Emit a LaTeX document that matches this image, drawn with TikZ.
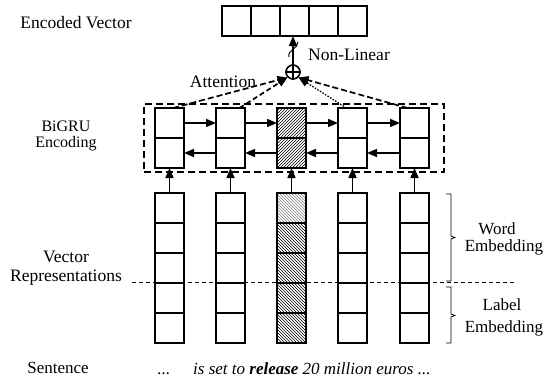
\documentclass[tikz,border=0pt]{standalone}
\usepackage{fontspec}
\setmainfont{Liberation Serif}
\usetikzlibrary{arrows.meta,patterns}
\begin{document}
\begin{tikzpicture}[x=1pt,y=-1pt,
  lbl/.style={inner sep=0pt,anchor=base,font=\fontsize{17.5}{20}\selectfont},
  slbl/.style={inner sep=0pt,anchor=base,font=\fontsize{16}{19}\selectfont},
  cell/.style={draw,line width=2pt,minimum width=29pt,minimum height=30pt,inner sep=0pt,outer sep=0pt,anchor=north west},
  arr/.style={line width=1.6pt,-{Triangle[length=10pt,width=8pt]}},
  att/.style={line width=1.7pt,-{Triangle[length=10pt,width=8pt]}},
  brk/.style={line width=0.8pt},
]
\useasboundingbox (0,0) rectangle (544,388);

% encoded vector
\foreach \i in {1,...,5}{
  \node[cell] (v\i) at ({222+29*(\i-1)},6) {};
}
% BiGRU cells
\foreach \i/\x in {1/155,2/216,3/277,4/338,5/400}{
  \ifnum\i=3
    \node[cell,pattern=north east lines] (g\i t) at (\x,108) {};
    \node[cell,pattern=north east lines] (g\i b) at (\x,138) {};
  \else
    \node[cell] (g\i t) at (\x,108) {};
    \node[cell] (g\i b) at (\x,138) {};
  \fi
}
% embedding columns
\foreach \i/\x in {1/155,2/216,3/277,4/338,5/400}{
  \foreach \j in {1,...,5}{
    \ifnum\i=3
      \ifnum\j=1
        \node[cell,pattern=north west lines,pattern color=gray] (e\i\j) at (\x,{193+30*(\j-1)}) {};
      \else
        \node[cell,pattern=north west lines] (e\i\j) at (\x,{193+30*(\j-1)}) {};
      \fi
    \else
      \node[cell] (e\i\j) at (\x,{193+30*(\j-1)}) {};
    \fi
  }
  \draw[arr] (e\i1.north) -- (g\i b.south);
}
% recurrent arrows
\foreach \a/\b in {1/2,2/3,3/4,4/5}{
  \draw[arr] (g\a t.east) -- (g\b t.west);
  \draw[arr] (g\b b.west) -- (g\a b.east);
}
% dashed BiGRU frame
\node[draw,line width=2pt,dash pattern=on 7pt off 4pt,minimum width=300pt,minimum height=68pt,inner sep=0pt,anchor=north west] (frame) at (143,103) {};

% combination circle
\node[draw,circle,line width=1.6pt,minimum size=14pt,inner sep=0pt] (plus) at (293,72) {};
\draw[line width=1.6pt] (plus.north) -- (plus.south) (plus.west) -- (plus.east);
\draw[arr] (plus.north) -- (plus.north |- v3.south);
\draw[line width=1pt] (289,57) .. controls (287,50) and (298,49) .. (298,42);

% attention connectors
\draw[att,dash pattern=on 6pt off 3pt] ([xshift=3.5pt]g1t.north) -- (plus.south west);
\draw[att,dash pattern=on 5pt off 3pt] ([xshift=9pt]g2t.north) -- (plus.south west);
\draw[att,line width=1.3pt,dash pattern=on 1.5pt off 1.5pt] ([xshift=-6pt]g4t.north) -- (plus.south east);
\draw[att,dash pattern=on 6pt off 3pt] ([xshift=-7pt]g5t.north) -- (plus.south east);

% word / label separator
\coordinate (sepL) at (132,282);
\coordinate (sepR) at (515,282);
\draw[line width=0.8pt,dash pattern=on 4pt off 3pt] (sepL) -- (sepR);

% brackets
\draw[brk] (446,194) -- (451,194) -- (451,236) -- (455,237.5) -- (451,239) -- (451,281) -- (446,281);
\draw[brk] (446,287) -- (451,287) -- (451,314) -- (455,315.5) -- (451,317) -- (451,343) -- (446,343);

% labels
\node[lbl] (lenc) at (76,28) {Encoded Vector};
\node[lbl,anchor=base west] (lnl) at (308,60) {Non-Linear};
\node[lbl] (latt) at (223,87) {Attention};
\node[slbl] (lbi) at (66,131) {BiGRU};
\node[slbl] (lbe) at (66,147) {Encoding};
\node[lbl] (lvec) at (66,262) {Vector};
\node[lbl] (lrep) at (66,281) {Representations};
\node[lbl,font=\fontsize{17}{20}\selectfont] (lw1) at (497,234) {Word};
\node[lbl,font=\fontsize{17}{20}\selectfont] (lw2) at (504,251) {Embedding};
\node[lbl,font=\fontsize{17}{20}\selectfont] (ll1) at (502,310) {Label};
\node[lbl,font=\fontsize{17}{20}\selectfont] (ll2) at (504,332) {Embedding};
\node[lbl,font=\fontsize{17}{20}\selectfont] (lsen) at (58,373) {Sentence};
\node[lbl,font=\fontsize{17}{20}\selectfont\itshape] (ldots) at (164,374) {...};
\node[lbl,anchor=base west,font=\fontsize{17}{20}\selectfont\itshape] (lsent) at (193,374) {is set to \textbf{release} 20 million euros ...};
\end{tikzpicture}
\end{document}
